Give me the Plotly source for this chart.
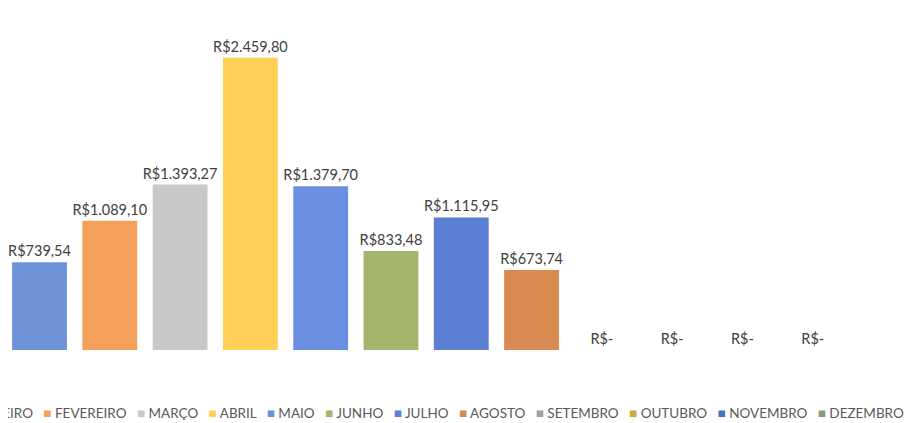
import plotly.graph_objects as go

meses = ["JANEIRO", "FEVEREIRO", "MARÇO", "ABRIL", "MAIO", "JUNHO",
         "JULHO", "AGOSTO", "SETEMBRO", "OUTUBRO", "NOVEMBRO", "DEZEMBRO"]
repasses = [739.54, 1089.10, 1393.27, 2459.80, 1379.70, 833.48,
            1115.95, 673.74, 0, 0, 0, 0]
cores = ["#6E93D8", "#F5A05A", "#C8C8C8", "#FFD055", "#6B8FE0", "#A4B56E",
         "#5A7FD4", "#D98A50", "#A0A0A0", "#D0A84A", "#4A72B8", "#8A9A72"]


def brl(v):
    # formato contábil do Excel: zero vira "R$-"
    if v == 0:
        return "R$-"
    s = f"{v:,.2f}".replace(",", "X").replace(".", ",").replace("X", ".")
    return "R$" + s


fig = go.Figure(go.Bar(
    x=meses, y=repasses,
    marker=dict(color=cores, line=dict(width=0)),
    text=[brl(v) for v in repasses],
    textposition="outside",
    constraintext="none",
    textfont=dict(family="Lato", size=14.5, color="#404040"),
    cliponaxis=False,
    showlegend=False,
))

# legenda no estilo do Excel (quadradinho colorido + nome do mês)
legenda = "   ".join(
    f"<span style='color:{c}'>■</span> {m}" for m, c in zip(meses, cores)
)
fig.add_annotation(
    text=legenda, xref="paper", yref="paper", x=1.059, y=-0.203,
    xanchor="right", yanchor="middle", showarrow=False,
    font=dict(family="Lato", size=13.5, color="#595959"),
)

fig.update_layout(
    width=921, height=423,
    margin=dict(l=0, r=73, t=32, b=81),
    paper_bgcolor="white", plot_bgcolor="white",
    bargap=0.22,
    xaxis=dict(visible=False, range=[-0.448, 11.615]),
    yaxis=dict(visible=False, range=[0, 2610]),
)

fig.write_html("out.html")
